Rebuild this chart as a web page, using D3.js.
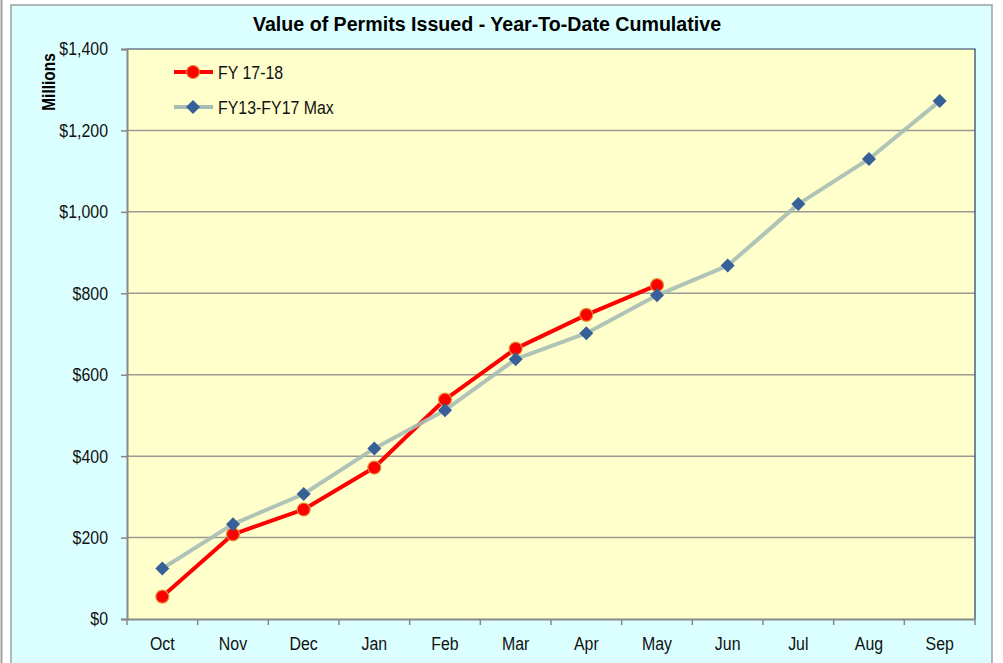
<!DOCTYPE html>
<html><head><meta charset="utf-8">
<script src="https://cdn.jsdelivr.net/npm/d3@7"></script>
<style>
html,body{margin:0;padding:0;background:#fff;}
svg{display:block;}
text{font-family:"Liberation Sans",Arial,sans-serif;}
</style></head>
<body>
<svg id="c" width="1003" height="663"></svg>
<script>
const months = ["Oct","Nov","Dec","Jan","Feb","Mar","Apr","May","Jun","Jul","Aug","Sep"];
const fy1718 = [55, 208, 269, 372, 539, 664, 747, 820];
const fyMax = [124, 233, 307, 419, 513, 638, 702, 795, 868, 1019, 1130, 1272];
const yTicks = [0, 200, 400, 600, 800, 1000, 1200, 1400];
const seriesNames = ["FY 17-18", "FY13-FY17 Max"];

const FS = 18.5, SX = 0.86;
const svg = d3.select("#c");
// outer frame
svg.append("line").attr("x1",1.5).attr("x2",1.5).attr("y1",0).attr("y2",663).attr("stroke","#a0a0a0").attr("stroke-width",2);
svg.append("rect").attr("x",11).attr("y",5).attr("width",981).attr("height",670)
  .attr("fill","#dbffff").attr("stroke","#a0a0a0").attr("stroke-width",1.5);

const L=127, T=49, R=975, B=619;
const x = d3.scaleBand().domain(months).range([L,R]);
const y = d3.scaleLinear().domain([0,1400]).range([B,T]);

svg.append("rect").attr("x",L).attr("y",T).attr("width",R-L).attr("height",B-T).attr("fill","#ffffcc");

// gridlines
svg.append("g").selectAll("line").data(yTicks.filter(d=>d>0&&d<1400)).join("line")
  .attr("x1",L).attr("x2",R).attr("y1",d=>y(d)).attr("y2",d=>y(d))
  .attr("stroke","#9a9a92").attr("stroke-width",1.5);

// top/right border
svg.append("path").attr("d",`M${L},${T}H${R}V${B}`).attr("fill","none").attr("stroke","#243a60").attr("stroke-width",1.2);

// y axis
const ya = svg.append("g").attr("transform",`translate(${L},0)`)
  .call(d3.axisLeft(y).tickValues(yTicks).tickSize(6).tickPadding(12).tickFormat(d=>"$"+d3.format(",")(d)));
ya.select(".domain").attr("stroke","#888").attr("stroke-width",2);
ya.selectAll(".tick line").attr("stroke","#888").attr("stroke-width",1.5);
ya.selectAll("text").attr("font-size",FS).attr("fill","#111")
  .attr("x",-19/SX).attr("transform",`scale(${SX},1)`)
  .style("font-family",'"Liberation Sans",Arial,sans-serif');

// x axis
const xa = svg.append("g").attr("transform",`translate(0,${B})`)
  .call(d3.axisBottom(x).tickSize(0).tickPadding(18));
xa.select(".domain").attr("stroke","#888").attr("stroke-width",2);
xa.selectAll("text").attr("font-size",FS).attr("fill","#111")
  .attr("transform",`scale(${SX},1)`)
  .style("font-family",'"Liberation Sans",Arial,sans-serif');
svg.append("g").selectAll("line").data(months.map((m,i)=>i).concat([months.length])).join("line")
  .attr("x1",i=>L+i*x.step()).attr("x2",i=>L+i*x.step())
  .attr("y1",B).attr("y2",B+6).attr("stroke","#888").attr("stroke-width",1.5);

const cx = m => x(m)+x.bandwidth()/2;

const redData = fy1718.map((v,i)=>({m:months[i],v}));
const greyData = fyMax.map((v,i)=>({m:months[i],v}));
const line = d3.line().x(d=>cx(d.m)).y(d=>y(d.v));

// red series
svg.append("path").datum(redData).attr("d",line).attr("fill","none").attr("stroke","#ff0000").attr("stroke-width",4).attr("stroke-linejoin","round");
svg.append("g").selectAll("circle").data(redData).join("circle")
  .attr("cx",d=>cx(d.m)).attr("cy",d=>y(d.v)).attr("r",6.5)
  .attr("fill","#ff0000").attr("stroke","#e0913a").attr("stroke-width",1.2);

// grey series
svg.append("path").datum(greyData).attr("d",line).attr("fill","none").attr("stroke","#a6bcb4").attr("stroke-opacity",0.9).attr("stroke-width",4).attr("stroke-linejoin","round");
const diamond = "M0,-7L7,0L0,7L-7,0Z";
svg.append("g").selectAll("path").data(greyData).join("path")
  .attr("transform",d=>`translate(${cx(d.m)},${y(d.v)})`).attr("d",diamond)
  .attr("fill","#366097");

// legend
const lg = svg.append("g");
[[72,0],[107,1]].forEach(([ly,k])=>{
  lg.append("line").attr("x1",174).attr("x2",213).attr("y1",ly).attr("y2",ly)
    .attr("stroke",k===0?"#ff0000":"#a6bcb4").attr("stroke-width",4);
  if(k===0){
    lg.append("circle").attr("cx",193).attr("cy",ly).attr("r",6.5).attr("fill","#ff0000").attr("stroke","#e0913a").attr("stroke-width",1.2);
  } else {
    lg.append("path").attr("transform",`translate(193,${ly})`).attr("d",diamond).attr("fill","#366097");
  }
  lg.append("text").attr("transform",`translate(218,${ly+6.5}) scale(${SX},1)`)
    .attr("font-size",FS).attr("fill","#111").text(seriesNames[k]);
});

// title
svg.append("text").attr("transform","translate(487,31) scale(0.935,1)").attr("text-anchor","middle")
  .attr("font-size",21).attr("font-weight","bold").attr("fill","#000")
  .text("Value of Permits Issued - Year-To-Date Cumulative");

// y axis title
svg.append("text").attr("transform","translate(55,82) rotate(-90) scale(0.86,1)").attr("text-anchor","middle")
  .attr("font-size",18).attr("font-weight","bold").attr("fill","#000").text("Millions");
</script>
</body></html>
